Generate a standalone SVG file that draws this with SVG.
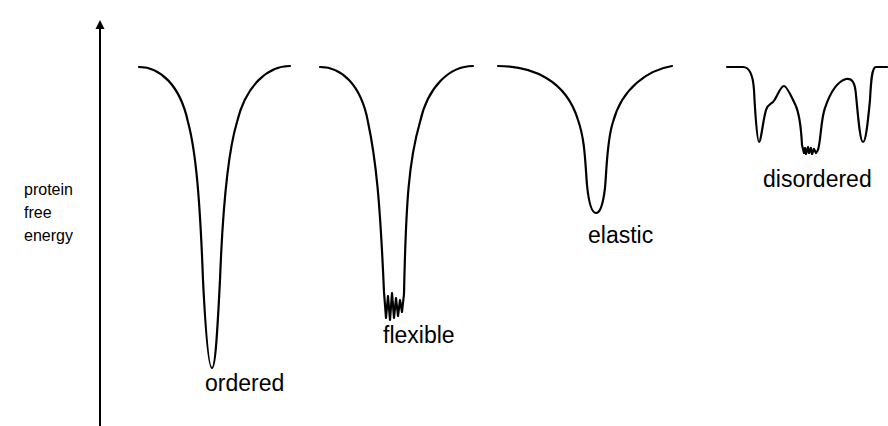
<svg xmlns="http://www.w3.org/2000/svg" width="888" height="426" viewBox="0 0 888 426">
  <style>
    .curve { fill: none; stroke: #000; stroke-width: 2.2; stroke-linejoin: round; stroke-linecap: round; }
    .axis { fill: none; stroke: #000; stroke-width: 2; }
    .label { font-family: "Liberation Sans", Arial, Helvetica, sans-serif; font-size: 23px; fill: #000; }
    .axis-label { font-family: "Liberation Sans", Arial, Helvetica, sans-serif; font-size: 16px; fill: #000; }
  </style>
  <defs>
    <marker id="arrow" markerWidth="10" markerHeight="10" refX="5" refY="1" orient="auto-start-reverse" markerUnits="userSpaceOnUse" viewBox="0 0 10 10">
      <path d="M5,0 L9.5,9 L0.5,9 Z" fill="#000"/>
    </marker>
  </defs>
  <rect width="888" height="426" fill="#fff"/>

  <!-- energy axis -->
  <g id="axis">
    <line class="axis" x1="100" y1="426" x2="100" y2="28"/>
    <path d="M100,20 L104.5,29 L95.5,29 Z" fill="#000"/>
    <text class="axis-label" x="24" y="195">protein</text>
    <text class="axis-label" x="24" y="218">free</text>
    <text class="axis-label" x="24" y="241">energy</text>
  </g>

  <!-- ordered: single deep narrow well -->
  <g id="ordered">
    <path class="curve" d="M139,67 C160,67 180,85 188,122 C196,152 200,200 203,280 C206,340 209,368 212,368 C215,368 217,340 220,280 C223,200 228,152 237,122 C246,85 268,66 290,66"/>
    <text class="label" x="205" y="391">ordered</text>
  </g>

  <!-- flexible: deep well with a rugged bottom -->
  <g id="flexible">
    <path class="curve" d="M320,67 C341,67 361,84 368,122 C376,160 380,200 384,292 L386,318 L388,296 L390,320 L392,293 L394,318 L396,298 L398,316 L400,300 L402,312 L404,294 C406,200 409,160 420,122 C428,86 450,66 473,66"/>
    <text class="label" x="383" y="343">flexible</text>
  </g>

  <!-- elastic: shallower single well -->
  <g id="elastic">
    <path class="curve" d="M498,66 C532,66 566,80 578,120 C585,140 585,160 587,185 C589,205 592,213 596,213 C600,213 603,205 605,188 C607,165 607,140 613,122 C622,88 648,70 672,66"/>
    <text class="label" x="588" y="243">elastic</text>
  </g>

  <!-- disordered: several shallow wells -->
  <g id="disordered">
    <path class="curve" d="M727,67 L743,67 C750,67 753,75 754,90 C755,110 757,142 759,142 C761,142 763,120 766,110 C768,104 771,104 773,102 C777,98 780,86 784,86 C787,86 791,96 795,104 C799,112 801,125 802,145 L804,153 L805,148 L806,154 L808,147 L809,153 L811,148 L812,154 L814,149 L816,153 L818,150 C821,140 821,118 825,108 C829,96 836,82 846,79 C852,78 855,82 856,95 C858,115 860,142 863,142 C866,142 868,120 870,100 C871,80 872,67 876,67 L887,67"/>
    <text class="label" x="763" y="187">disordered</text>
  </g>
</svg>
